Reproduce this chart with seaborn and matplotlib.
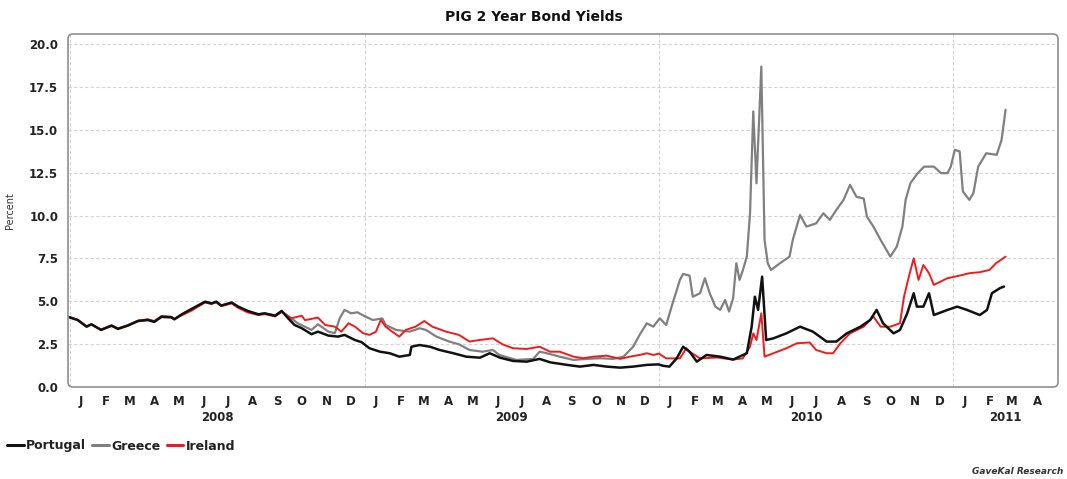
import matplotlib
matplotlib.use("Agg")
import matplotlib.pyplot as plt
import matplotlib.dates as mdates
from matplotlib.patches import FancyBboxPatch
from matplotlib.lines import Line2D
import seaborn as sns
import pandas as pd

# ---- 2-year government bond yields (percent) ----
portugal_dates = [
    "2008-01-01", "2008-01-11", "2008-01-22", "2008-01-28", "2008-02-09", "2008-02-22", "2008-03-01",
    "2008-03-13", "2008-03-26", "2008-04-07", "2008-04-15", "2008-04-24", "2008-05-06", "2008-05-10",
    "2008-05-19", "2008-05-31", "2008-06-08", "2008-06-17", "2008-06-25", "2008-07-01", "2008-07-07",
    "2008-07-20", "2008-07-28", "2008-08-09", "2008-08-22", "2008-08-30", "2008-09-12", "2008-09-20",
    "2008-09-28", "2008-10-06", "2008-10-15", "2008-10-27", "2008-11-04", "2008-11-17", "2008-11-29",
    "2008-12-07", "2008-12-20", "2008-12-28",
    "2009-01-07", "2009-01-20", "2009-02-01", "2009-02-13", "2009-02-26", "2009-02-28", "2009-03-10",
    "2009-03-23", "2009-04-04", "2009-04-21", "2009-05-07", "2009-05-24", "2009-06-05", "2009-06-18",
    "2009-07-04", "2009-07-21", "2009-08-06", "2009-08-19", "2009-09-09", "2009-09-25", "2009-10-12",
    "2009-10-28", "2009-11-14", "2009-11-30", "2009-12-17", "2009-12-31",
    "2010-01-06", "2010-01-14", "2010-01-23", "2010-01-31", "2010-02-08", "2010-02-17", "2010-03-01",
    "2010-03-18", "2010-04-03", "2010-04-20", "2010-04-26", "2010-04-30", "2010-05-04", "2010-05-09",
    "2010-05-14", "2010-05-23", "2010-06-08", "2010-06-25", "2010-07-11", "2010-07-28", "2010-08-09",
    "2010-08-22", "2010-09-08", "2010-09-20", "2010-09-28", "2010-10-06", "2010-10-19", "2010-10-27",
    "2010-11-05", "2010-11-13", "2010-11-17", "2010-11-25", "2010-12-02", "2010-12-08", "2010-12-25",
    "2011-01-06", "2011-01-18", "2011-02-03", "2011-02-12", "2011-02-18", "2011-02-28", "2011-03-05",
]
portugal = [
    4.07, 3.91, 3.52, 3.66, 3.33, 3.58, 3.39, 3.58, 3.85, 3.91, 3.80, 4.10, 4.07, 3.95, 4.24, 4.55,
    4.75, 4.98, 4.88, 4.98, 4.75, 4.93, 4.69, 4.44, 4.24, 4.30, 4.16, 4.44, 4.01, 3.62, 3.43, 3.08,
    3.23, 3.00, 2.94, 3.04, 2.74, 2.62,
    2.26, 2.06, 1.97, 1.77, 1.87, 2.35, 2.45, 2.35, 2.16, 1.97, 1.77, 1.71, 1.97, 1.71, 1.52, 1.48,
    1.64, 1.44, 1.29, 1.19, 1.29, 1.19, 1.13, 1.19, 1.29, 1.32,
    1.24, 1.19, 1.67, 2.35, 2.06, 1.48, 1.87, 1.77, 1.60, 1.97, 3.52, 5.27, 4.50, 6.44, 2.74, 2.84,
    3.13, 3.52, 3.23, 2.65, 2.65, 3.13, 3.52, 3.91, 4.50, 3.72, 3.13, 3.33, 4.30, 5.47, 4.69, 4.69,
    5.47, 4.20, 4.50,
    4.69, 4.50, 4.20, 4.50, 5.47, 5.77, 5.86,
]

greece_dates = [
    "2008-01-01", "2008-01-11", "2008-01-22", "2008-01-28", "2008-02-09", "2008-02-22", "2008-03-01",
    "2008-03-13", "2008-03-26", "2008-04-07", "2008-04-15", "2008-04-24", "2008-05-06", "2008-05-10",
    "2008-05-19", "2008-05-31", "2008-06-08", "2008-06-17", "2008-06-25", "2008-07-01", "2008-07-07",
    "2008-07-20", "2008-07-28", "2008-08-09", "2008-08-22", "2008-08-30", "2008-09-12", "2008-09-20",
    "2008-10-10", "2008-10-27", "2008-11-04", "2008-11-17", "2008-11-25", "2008-12-01", "2008-12-07",
    "2008-12-15", "2008-12-23", "2008-12-30",
    "2009-01-11", "2009-01-23", "2009-01-27", "2009-02-09", "2009-02-26", "2009-03-10", "2009-03-18",
    "2009-03-31", "2009-04-16", "2009-04-28", "2009-05-11", "2009-05-27", "2009-06-09", "2009-06-17",
    "2009-07-08", "2009-07-29", "2009-08-06", "2009-08-15", "2009-08-31", "2009-09-17", "2009-10-03",
    "2009-10-20", "2009-11-05", "2009-11-18", "2009-11-30", "2009-12-08", "2009-12-17", "2009-12-25",
    "2010-01-02", "2010-01-10", "2010-01-18", "2010-01-27", "2010-01-31", "2010-02-08", "2010-02-12",
    "2010-02-21", "2010-02-27", "2010-03-05", "2010-03-12", "2010-03-18", "2010-03-24", "2010-03-29",
    "2010-04-03", "2010-04-07", "2010-04-11", "2010-04-15", "2010-04-20", "2010-04-24", "2010-04-28",
    "2010-05-02", "2010-05-08", "2010-05-12", "2010-05-16", "2010-05-20", "2010-05-31", "2010-06-12",
    "2010-06-16", "2010-06-25", "2010-07-03", "2010-07-15", "2010-07-24", "2010-08-01", "2010-08-09",
    "2010-08-18", "2010-08-26", "2010-09-03", "2010-09-12", "2010-09-16", "2010-09-24", "2010-10-03",
    "2010-10-15", "2010-10-23", "2010-10-30", "2010-11-03", "2010-11-09", "2010-11-18", "2010-11-26",
    "2010-12-08", "2010-12-17", "2010-12-25", "2010-12-29",
    "2011-01-03", "2011-01-09", "2011-01-13", "2011-01-21", "2011-01-26", "2011-02-01", "2011-02-11",
    "2011-02-24", "2011-03-02", "2011-03-07",
]
greece = [
    4.08, 3.90, 3.53, 3.65, 3.34, 3.57, 3.40, 3.59, 3.86, 3.92, 3.82, 4.08, 4.06, 3.96, 4.22, 4.52,
    4.74, 4.96, 4.86, 4.97, 4.76, 4.92, 4.70, 4.42, 4.25, 4.28, 4.18, 4.42, 3.72, 3.33, 3.66, 3.23,
    3.14, 4.01, 4.50, 4.30, 4.36, 4.18,
    3.91, 4.00, 3.62, 3.33, 3.23, 3.43, 3.33, 2.94, 2.65, 2.49, 2.16, 2.06, 2.16, 1.87, 1.58, 1.64,
    2.06, 1.97, 1.77, 1.58, 1.64, 1.68, 1.64, 1.77, 2.35, 3.04, 3.72, 3.52,
    4.01, 3.62, 4.89, 6.25, 6.60, 6.50, 5.27, 5.47, 6.35, 5.47, 4.69, 4.50, 5.08, 4.40, 5.18, 7.22,
    6.25, 6.80, 7.61, 10.14, 16.08, 11.89, 18.70, 8.58, 7.22, 6.83, 7.22, 7.61, 8.58, 10.04, 9.36,
    9.55, 10.14, 9.75, 10.33, 10.92, 11.80, 11.10, 11.00, 9.94, 9.36, 8.58, 7.61, 8.19, 9.36, 10.92,
    11.90, 12.48, 12.86, 12.86, 12.48, 12.48, 12.86,
    13.84, 13.75, 11.41, 10.92, 11.30, 12.86, 13.64, 13.55, 14.42, 16.18,
]

ireland_dates = [
    "2008-01-01", "2008-01-11", "2008-01-22", "2008-01-28", "2008-02-09", "2008-02-22", "2008-03-01",
    "2008-03-13", "2008-03-26", "2008-04-07", "2008-04-15", "2008-04-24", "2008-05-06", "2008-05-10",
    "2008-05-19", "2008-05-31", "2008-06-08", "2008-06-17", "2008-06-25", "2008-07-01", "2008-07-07",
    "2008-07-20", "2008-07-28", "2008-08-09", "2008-08-22", "2008-08-30", "2008-09-12", "2008-09-20",
    "2008-10-02", "2008-10-15", "2008-10-19", "2008-11-04", "2008-11-13", "2008-11-25", "2008-12-03",
    "2008-12-12", "2008-12-20", "2008-12-30",
    "2009-01-07", "2009-01-15", "2009-01-21", "2009-01-27", "2009-02-04", "2009-02-13", "2009-02-21",
    "2009-03-05", "2009-03-16", "2009-03-26", "2009-04-12", "2009-04-28", "2009-05-11", "2009-05-23",
    "2009-06-09", "2009-06-21", "2009-07-04", "2009-07-21", "2009-08-06", "2009-08-19", "2009-08-31",
    "2009-09-17", "2009-09-29", "2009-10-12", "2009-10-28", "2009-11-14", "2009-11-26", "2009-12-08",
    "2009-12-17", "2009-12-25",
    "2010-01-01", "2010-01-10", "2010-01-27", "2010-02-04", "2010-02-08", "2010-02-21", "2010-03-14",
    "2010-04-03", "2010-04-15", "2010-04-24", "2010-04-28", "2010-05-02", "2010-05-08", "2010-05-12",
    "2010-05-23", "2010-06-08", "2010-06-21", "2010-07-07", "2010-07-15", "2010-07-28", "2010-08-05",
    "2010-08-14", "2010-08-26", "2010-09-12", "2010-09-24", "2010-10-03", "2010-10-15", "2010-10-27",
    "2010-11-01", "2010-11-07", "2010-11-13", "2010-11-19", "2010-11-25", "2010-12-02", "2010-12-08",
    "2010-12-25",
    "2011-01-09", "2011-01-21", "2011-02-03", "2011-02-15", "2011-02-23", "2011-03-07",
]
ireland = [
    4.05, 3.93, 3.55, 3.66, 3.35, 3.60, 3.42, 3.60, 3.88, 3.95, 3.85, 4.14, 4.10, 3.98, 4.18, 4.45,
    4.68, 4.93, 4.85, 4.95, 4.72, 4.88, 4.62, 4.35, 4.20, 4.25, 4.12, 4.38, 4.01, 4.16, 3.90, 4.05,
    3.62, 3.52, 3.23, 3.72, 3.52, 3.14,
    3.04, 3.23, 3.91, 3.52, 3.23, 2.94, 3.33, 3.52, 3.85, 3.52, 3.23, 3.04, 2.65, 2.74, 2.84, 2.49,
    2.26, 2.22, 2.35, 2.06, 2.06, 1.77, 1.68, 1.77, 1.83, 1.64, 1.77, 1.87, 1.97, 1.87,
    1.95, 1.67, 1.67, 2.26, 2.06, 1.67, 1.72, 1.60, 1.67, 2.35, 3.13, 2.74, 4.30, 1.77, 1.97, 2.26,
    2.55, 2.60, 2.16, 1.97, 1.97, 2.55, 3.13, 3.52, 4.11, 3.52, 3.52, 3.72, 5.27, 6.44, 7.51, 6.25,
    7.12, 6.64, 5.96, 6.35,
    6.50, 6.64, 6.70, 6.83, 7.22, 7.61,
]

series_names = ["Portugal", "Greece", "Ireland"]
series_colors = {"Portugal": "#111111", "Greece": "#808080", "Ireland": "#ee1c1c"}
month_letters = ["J", "F", "M", "A", "M", "J", "J", "A", "S", "O", "N", "D"]
y_ticks = [0.0, 2.5, 5.0, 7.5, 10.0, 12.5, 15.0, 17.5, 20.0]

frames = []
for name, d, v in [("Portugal", portugal_dates, portugal),
                   ("Greece", greece_dates, greece),
                   ("Ireland", ireland_dates, ireland)]:
    frames.append(pd.DataFrame({"date": pd.to_datetime(d), "yield": v, "country": name}))
df = pd.concat(frames, ignore_index=True)

sns.set_theme(style="white")
narrow = ["Liberation Sans Narrow", "DejaVu Sans"]
plt.rcParams["font.family"] = narrow
plt.rcParams["font.weight"] = "bold"
plt.rcParams["text.color"] = "#222222"

fig = plt.figure(figsize=(10.67, 4.79), dpi=100)
ax = fig.add_axes([68 / 1067, 1 - 387 / 479, (1058 - 68) / 1067, (387 - 34) / 479])

# Greece underneath, then Ireland, Portugal on top
for name, lw in [("Greece", 1.6), ("Ireland", 1.4), ("Portugal", 1.8)]:
    sub = df[df["country"] == name]
    sns.lineplot(data=sub, x="date", y="yield", color=series_colors[name], lw=lw,
                 estimator=None, ax=ax, legend=False)

x0, x1 = pd.Timestamp("2007-12-30"), pd.Timestamp("2011-05-11")
ax.set_xlim(x0, x1)
ax.set_ylim(0, 20.6)
ax.set_xlabel("")
ax.set_ylabel("Percent", fontsize=7, labelpad=10, color="#333333", fontweight="normal")

# y axis
ax.set_yticks(y_ticks)
ax.set_yticklabels([f"{t:.1f}" for t in y_ticks], fontweight="bold")
ax.tick_params(axis="y", which="major", length=4, width=1, color="#777777", direction="out",
               labelsize=8.5, pad=3, labelcolor="#222222")
ax.grid(axis="y", color="#d2d2d2", lw=0.8, ls=(0, (3, 2)))

# x axis: year gridlines, month tick marks, month letters, year labels
year_starts = pd.date_range("2008-01-01", "2011-01-01", freq="YS")
month_starts = pd.date_range("2008-01-01", "2011-05-01", freq="MS")
ax.set_xticks(year_starts)
ax.set_xticklabels([])
ax.set_xticks(month_starts, minor=True)
ax.tick_params(axis="x", which="both", length=4, width=1, color="#777777", direction="inout")
ax.grid(axis="x", which="major", color="#d2d2d2", lw=0.8, ls=(0, (3, 2)))

sec = ax.secondary_xaxis("bottom")
mid_months = [m + pd.Timedelta(days=14) for m in month_starts[:-1]]
sec.set_xticks(mid_months)
sec.set_xticklabels([month_letters[m.month - 1] for m in mid_months], fontweight="bold")
sec.tick_params(axis="x", length=0, pad=6, labelsize=8.5, labelcolor="#222222")
for s in sec.spines.values():
    s.set_visible(False)

for ys in year_starts:
    lo = max(ys, x0)
    hi = min(ys + pd.DateOffset(years=1), x1)
    mid = lo + (hi - lo) / 2
    ax.text(mdates.date2num(mid), -0.085, str(ys.year), transform=ax.get_xaxis_transform(),
            ha="center", va="center", fontsize=8.5, fontweight="bold", color="#222222")

for s in ax.spines.values():
    s.set_visible(False)
frame = FancyBboxPatch((0, 0), 1, 1, boxstyle="round,pad=0,rounding_size=0.005",
                       mutation_aspect=990 / 353, transform=ax.transAxes, fill=False,
                       edgecolor="#8f8f8f", lw=1.2, clip_on=False, zorder=5)
ax.add_patch(frame)

fig.text(0.5, 1 - 17 / 479, "PIG 2 Year Bond Yields", ha="center", va="center",
         fontsize=10, fontweight="bold", family=["DejaVu Sans"], color="#111111")

handles = [Line2D([], [], color=series_colors[n], lw=2.2) for n in series_names]
fig.legend(handles, series_names, loc="center left", bbox_to_anchor=(0.007, 1 - 446 / 479),
           ncol=3, frameon=False, handlelength=1.3, handletextpad=0.2, columnspacing=0.5,
           borderaxespad=0, borderpad=0, prop={"size": 9, "weight": "bold", "family": narrow})

fig.text(1063 / 1067, 1 - 471 / 479, "GaveKal Research", ha="right", va="center",
         fontsize=6.5, fontstyle="italic", fontweight="bold", color="#333333")

fig.savefig("out.png", dpi=100, facecolor="white")
